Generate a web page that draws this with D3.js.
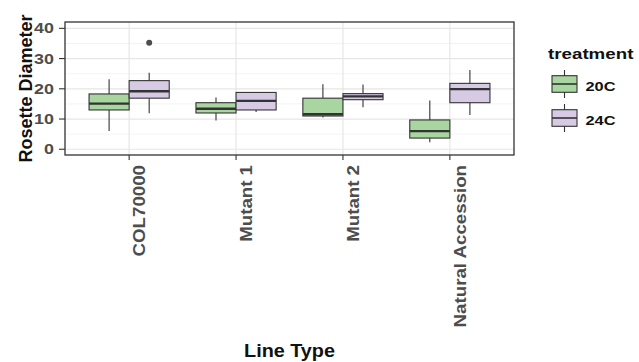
<!DOCTYPE html>
<html><head><meta charset="utf-8">
<script src="https://cdn.jsdelivr.net/npm/d3@7"></script>
<style>body{margin:0;background:#fff}svg{display:block}</style>
</head><body>
<script>
const categories = ["COL70000", "Mutant 1", "Mutant 2", "Natural Accession"];
const treatments = ["20C", "24C"];
const colors = ["#a8d5a0", "#d6cae4"];
// per category: [lower whisker, Q1, median, Q3, upper whisker]
const stats20C = [
  [6.0, 13.0, 15.1, 18.3, 23.2],
  [9.5, 12.0, 13.4, 15.4, 17.1],
  [10.5, 11.0, 11.6, 16.9, 21.5],
  [2.3, 3.7, 6.0, 9.7, 16.1]
];
const stats24C = [
  [11.9, 16.9, 19.2, 22.7, 25.3],
  [12.3, 13.0, 16.0, 18.8, 18.8],
  [13.9, 16.4, 17.5, 18.4, 21.4],
  [11.3, 15.4, 19.9, 21.8, 26.2]
];
const outliers24C = [[35.2], [], [], []];
const yTicks = [0, 10, 20, 30, 40];
const yMinor = [5, 15, 25, 35];

const W = 639, H = 362;
const pL = 65, pR = 514, pT = 22, pB = 155;
const FONT = "Liberation Sans, Arial, sans-serif";
const svg = d3.select("body").append("svg").attr("width", W).attr("height", H);

const x = d3.scalePoint().domain(categories).range([pL, pR]).padding(0.6);
const step = x.step();
const y = d3.scaleLinear().domain([-1.9, 42.1]).range([pB, pT]);

const g = svg.append("g");
g.append("rect").attr("x", pL).attr("y", pT).attr("width", pR - pL).attr("height", pB - pT).attr("fill", "#fff");
g.selectAll(".ymin").data(yMinor).join("line")
  .attr("x1", pL).attr("x2", pR).attr("y1", d => y(d)).attr("y2", d => y(d))
  .attr("stroke", "#f0f0f0").attr("stroke-width", 0.8);
g.selectAll(".ymaj").data(yTicks).join("line")
  .attr("x1", pL).attr("x2", pR).attr("y1", d => y(d)).attr("y2", d => y(d))
  .attr("stroke", "#e6e6e6").attr("stroke-width", 1.2);
g.selectAll(".xmaj").data(categories).join("line")
  .attr("x1", d => x(d)).attr("x2", d => x(d)).attr("y1", pT).attr("y2", pB)
  .attr("stroke", "#e6e6e6").attr("stroke-width", 1.2);

const boxW = step * 0.375;
const series = [stats20C, stats24C];
series.forEach((st, si) => {
  const off = si === 0 ? -boxW / 2 : boxW / 2;
  const gg = svg.append("g");
  st.forEach((s, ci) => {
    const xc = x(categories[ci]) + off;
    gg.append("line").attr("x1", xc).attr("x2", xc).attr("y1", y(s[0])).attr("y2", y(s[1]))
      .attr("stroke", "#333").attr("stroke-width", 1.1);
    gg.append("line").attr("x1", xc).attr("x2", xc).attr("y1", y(s[3])).attr("y2", y(s[4]))
      .attr("stroke", "#333").attr("stroke-width", 1.1);
    gg.append("rect").attr("x", xc - boxW / 2).attr("width", boxW)
      .attr("y", y(s[3])).attr("height", y(s[1]) - y(s[3]))
      .attr("fill", colors[si]).attr("stroke", "#333").attr("stroke-width", 1.1);
    gg.append("line").attr("x1", xc - boxW / 2).attr("x2", xc + boxW / 2).attr("y1", y(s[2])).attr("y2", y(s[2]))
      .attr("stroke", "#333").attr("stroke-width", 2.4);
  });
});
outliers24C.forEach((arr, ci) => {
  arr.forEach(v => {
    svg.append("circle").attr("cx", x(categories[ci]) + boxW / 2).attr("cy", y(v)).attr("r", 3)
      .attr("fill", "#4d4d4d");
  });
});

svg.append("rect").attr("x", pL).attr("y", pT).attr("width", pR - pL).attr("height", pB - pT)
  .attr("fill", "none").attr("stroke", "#333").attr("stroke-width", 1.3);

svg.selectAll(".yt").data(yTicks).join("line")
  .attr("x1", pL - 6).attr("x2", pL).attr("y1", d => y(d)).attr("y2", d => y(d))
  .attr("stroke", "#333").attr("stroke-width", 1.1);
svg.selectAll(".ytl").data(yTicks).join("text")
  .attr("transform", d => `translate(${pL - 11},${y(d) + 5}) scale(1.28,1)`)
  .attr("text-anchor", "end").attr("font-family", FONT)
  .attr("font-weight", "bold").attr("font-size", 14).attr("fill", "#4d4d4d").text(d => d);

svg.selectAll(".xt").data(categories).join("line")
  .attr("x1", d => x(d)).attr("x2", d => x(d)).attr("y1", pB).attr("y2", pB + 5)
  .attr("stroke", "#333").attr("stroke-width", 1.1);
svg.selectAll(".xtl").data(categories).join("text")
  .attr("transform", d => `translate(${x(d) + 16},${pB + 10}) rotate(-90) scale(1.1,1)`)
  .attr("text-anchor", "end").attr("font-family", FONT)
  .attr("font-weight", "bold").attr("font-size", 17).attr("fill", "#4d4d4d").text(d => d);

svg.append("text").attr("transform", `translate(${(pL + pR) / 2},357) scale(1.1,1)`)
  .attr("text-anchor", "middle").attr("font-family", FONT)
  .attr("font-weight", "bold").attr("font-size", 18).attr("fill", "#111").text("Line Type");
svg.append("text").attr("transform", `translate(32,${(pT + pB) / 2}) rotate(-90)`)
  .attr("text-anchor", "middle").attr("font-family", FONT)
  .attr("font-weight", "bold").attr("font-size", 18).attr("fill", "#111").text("Rosette Diameter");

svg.append("text").attr("transform", "translate(548,59) scale(1.25,1)")
  .attr("font-family", FONT).attr("font-weight", "bold")
  .attr("font-size", 15).attr("fill", "#111").text("treatment");
treatments.forEach((t, i) => {
  const cy = 84 + i * 34;
  const kx = 564.5;
  svg.append("line").attr("x1", kx).attr("x2", kx).attr("y1", cy - 14).attr("y2", cy + 14)
    .attr("stroke", "#333").attr("stroke-width", 1.1);
  svg.append("rect").attr("x", kx - 12.5).attr("y", cy - 8.3).attr("width", 25).attr("height", 16.6)
    .attr("fill", colors[i]).attr("stroke", "#333").attr("stroke-width", 1.1);
  svg.append("line").attr("x1", kx - 12.5).attr("x2", kx + 12.5).attr("y1", cy).attr("y2", cy)
    .attr("stroke", "#333").attr("stroke-width", 1.6);
  svg.append("text").attr("transform", `translate(585.5,${cy + 6.5}) scale(1.3,1)`)
    .attr("font-family", FONT).attr("font-weight", "bold")
    .attr("font-size", 12.6).attr("fill", "#111").text(t);
});
</script>
</body></html>
